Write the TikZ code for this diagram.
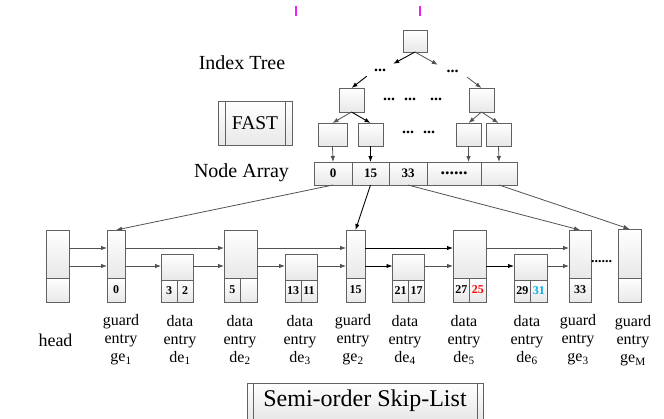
\documentclass[tikz,border=0pt]{standalone}
\usepackage{fontspec}
\setmainfont{Liberation Serif}
\usetikzlibrary{arrows.meta}
\definecolor{skyblue}{RGB}{0,176,240}
\definecolor{pinkmark}{RGB}{240,30,240}

\begin{document}
\begin{tikzpicture}[x=1pt,y=-1pt]
		\tikzstyle{box} = [draw=black!62,line width=0.9pt,top color=white,bottom color=black!9,inner sep=0.5pt,outer sep=0pt]
		\tikzstyle{frame} = [draw=black!62,line width=0.9pt]
		\tikzstyle{num} = [font=\fontsize{12}{12}\selectfont\bfseries]
		\tikzstyle{arr} = [font=\fontsize{13}{13}\selectfont\bfseries]
		\tikzstyle{link} = [draw=black!68,line width=0.8pt,-{Latex[length=6pt,width=4.5pt]}]
		\tikzstyle{hot} = [draw=black,line width=0.9pt,-{Latex[length=6pt,width=4.5pt]}]
		\tikzstyle{title} = [font=\fontsize{20}{24}\selectfont]
		\tikzstyle{lbl} = [align=center,font=\fontsize{16}{18}\selectfont]
		\tikzstyle{dots} = [font=\fontsize{16}{16}\selectfont\bfseries,inner sep=1pt]
		\useasboundingbox (0,0) rectangle (664,418);
		% marks on top
		\fill[pinkmark] (294.5,6) rectangle (296.5,16);
		\fill[pinkmark] (418.5,6) rectangle (420.5,16);
		% Titles
		\node[title] (tree) at (242,63) {Index Tree};
		\node[title] (array) at (241.5,173) {Node Array};
		\node[box,font=\fontsize{19.5}{24}\selectfont,minimum width=74pt,minimum height=44pt] (fast) at (255,123) {FAST};
		\draw[frame] ([xshift=7pt]fast.north west) -- ([xshift=7pt]fast.south west);
		\draw[frame] ([xshift=-7pt]fast.north east) -- ([xshift=-7pt]fast.south east);
		% Index tree
		\node[box,minimum width=24pt,minimum height=22pt] (root) at (415,41) {};
		\node[dots,minimum width=26pt,minimum height=12pt] (dl) at (380,70) {...};
		\node[dots,minimum width=29pt,minimum height=12pt] (dr) at (452.5,71) {...};
		\draw[hot] (root.south) -- (dl.north east);
		\draw[link] (root.south) -- (dr.north west);
		% Level 2
		\node[box,minimum width=25pt,minimum height=24pt] (l2a) at (351.5,100) {};
		\node[box,minimum width=25pt,minimum height=24pt] (l2b) at (481.5,100) {};
		\draw[hot] (dl.south west) -- (l2a.north);
		\draw[link] (dr.south east) -- (l2b.north);
		\node[dots] (m1) at (389,99) {...};
		\node[dots] (m2) at (410,99) {...};
		\node[dots] (m3) at (436,99) {...};
		% Level 3
		\node[box,minimum width=29pt,minimum height=23pt] (l3a) at (332.5,134.5) {};
		\node[box,minimum width=25pt,minimum height=23pt] (l3b) at (370.5,134.5) {};
		\node[box,minimum width=25pt,minimum height=23pt] (l3c) at (468.5,134.5) {};
		\node[box,minimum width=25pt,minimum height=23pt] (l3d) at (498.5,134.5) {};
		\draw[link] (l2a.south) -- (l3a.north);
		\draw[hot] (l2a.south) -- (l3b.north);
		\draw[link] (l2b.south) -- (l3c.north);
		\draw[link] (l2b.south) -- (l3d.north);
		\node[dots] (m4) at (408,132) {...};
		\node[dots] (m5) at (429,132) {...};
		% Node array
		\node[box,arr,minimum width=38pt,minimum height=23pt] (a0) at (333,173.5) {0};
		\node[box,arr,minimum width=37pt,minimum height=23pt] (a15) at (370.5,173.5) {15};
		\node[box,arr,minimum width=38pt,minimum height=23pt] (a33) at (408,173.5) {33};
		\node[box,arr,minimum width=54pt,minimum height=23pt] (adots) at (454,173.5) {\fontsize{18}{18}\selectfont......};
		\node[box,arr,minimum width=36pt,minimum height=23pt] (aend) at (499,173.5) {};
		\draw[link] (l3a.south) -- (a0.north);
		\draw[hot] (l3b.south) -- (a15.north);
		\draw[link] (l3c.south) -- (l3c.south |- adots.north);
		\draw[link] (l3d.south) -- (aend.north);
		% Head
		\node[box,minimum width=23pt,minimum height=48pt] (head) at (57.5,254) {};
		\node[box,minimum width=23pt,minimum height=24pt] (headb) at (57.5,290) {};
		% Guard entry 1
		\node[box,minimum width=18pt,minimum height=48pt] (ge1) at (116,254) {};
		\node[box,num,minimum width=18pt,minimum height=24pt] (ge1b) at (116,290) {0};
		% Data entry 1
		\node[box,minimum width=32pt,minimum height=26pt] (de1) at (177,267) {};
		\node[box,num,minimum width=16pt,minimum height=22pt] (de1l) at (169,291) {3};
		\node[box,num,minimum width=16pt,minimum height=22pt] (de1r) at (185,291) {2};
		% Data entry 2
		\node[box,minimum width=33pt,minimum height=48pt] (de2) at (240.5,254) {};
		\node[box,num,minimum width=16.5pt,minimum height=24pt] (de2l) at (232.25,290) {5};
		\node[box,num,minimum width=16.5pt,minimum height=24pt] (de2r) at (248.75,290) {};
		% Data entry 3
		\node[box,minimum width=32pt,minimum height=26pt] (de3) at (301,267) {};
		\node[box,num,minimum width=16pt,minimum height=22pt] (de3l) at (293,291) {13};
		\node[box,num,minimum width=16pt,minimum height=22pt] (de3r) at (309,291) {11};
		% Guard entry 2
		\node[box,minimum width=19pt,minimum height=48pt] (ge2) at (355.5,254) {};
		\node[box,num,minimum width=19pt,minimum height=24pt] (ge2b) at (355.5,290) {15};
		% Data entry 4
		\node[box,minimum width=32pt,minimum height=26pt] (de4) at (408.5,267) {};
		\node[box,num,minimum width=16pt,minimum height=22pt] (de4l) at (400.5,291) {21};
		\node[box,num,minimum width=16pt,minimum height=22pt] (de4r) at (416.5,291) {17};
		% Data entry 5
		\node[box,minimum width=33pt,minimum height=48pt] (de5) at (469.5,254) {};
		\node[box,num,minimum width=16.5pt,minimum height=24pt] (de5l) at (461.25,290) {27};
		\node[box,num,minimum width=16.5pt,minimum height=24pt,text=red] (de5r) at (477.75,290) {25};
		% Data entry 6
		\node[box,minimum width=33pt,minimum height=26pt] (de6) at (530.5,267) {};
		\node[box,num,minimum width=16.5pt,minimum height=22pt] (de6l) at (522.25,291) {29};
		\node[box,num,minimum width=16.5pt,minimum height=22pt,text=skyblue] (de6r) at (538.75,291) {31};
		% Guard entry 3 and M
		\node[box,minimum width=22pt,minimum height=48pt] (ge3) at (580,254) {};
		\node[box,num,minimum width=22pt,minimum height=24pt] (ge3b) at (580,290) {33};
		\node[box,minimum width=23pt,minimum height=49pt] (geM) at (629.5,253.5) {};
		\node[box,minimum width=23pt,minimum height=24pt] (geMb) at (629.5,290) {};
		\node[font=\fontsize{14}{14}\selectfont\bfseries,inner sep=0pt] (gap) at (601.5,262) {......};
		% Links between entries
		\coordinate (up) at (0,248);
		\coordinate (low) at (0,266);
		\draw[link] (head.east |- up) -- (ge1.west |- up);
		\draw[link] (ge1.east |- up) -- (de2.west |- up);
		\draw[link] (de2.east |- up) -- (ge2.west |- up);
		\draw[hot] (ge2.east |- up) -- (de5.west |- up);
		\draw[link] (de5.east |- up) -- (ge3.west |- up);
		\draw[link] (head.east |- low) -- (ge1.west |- low);
		\draw[link] (ge1.east |- low) -- (de1.west |- low);
		\draw[link] (de1.east |- low) -- (de2.west |- low);
		\draw[link] (de2.east |- low) -- (de3.west |- low);
		\draw[link] (de3.east |- low) -- (ge2.west |- low);
		\draw[hot] (ge2.east |- low) -- (de4.west |- low);
		\draw[link] (de4.east |- low) -- (de5.west |- low);
		\draw[hot] (de5.east |- low) -- (de6.west |- low);
		\draw[link] (de6.east |- low) -- (ge3.west |- low);
		% Array to guard entries
		\draw[link] (a0.south) -- (ge1.north);
		\draw[hot] (a15.south) -- (ge2.north);
		\draw[link] (a33.south) -- (ge3.north);
		\draw[link] (aend.south) -- (geM.north);
		% Labels
		\node[font=\fontsize{18}{18}\selectfont] (hl) at (55.5,340) {head};
		\node[lbl] (lge1) at (121,340) {guard\\entry\\ge\textsubscript{1}};
		\node[lbl] (lde1) at (180,340) {data\\entry\\de\textsubscript{1}};
		\node[lbl] (lde2) at (240,340) {data\\entry\\de\textsubscript{2}};
		\node[lbl] (lde3) at (300,340) {data\\entry\\de\textsubscript{3}};
		\node[lbl] (lge2) at (353,340) {guard\\entry\\ge\textsubscript{2}};
		\node[lbl] (lde4) at (405,340) {data\\entry\\de\textsubscript{4}};
		\node[lbl] (lde5) at (464,340) {data\\entry\\de\textsubscript{5}};
		\node[lbl] (lde6) at (527,340) {data\\entry\\de\textsubscript{6}};
		\node[lbl] (lge3) at (578,340) {guard\\entry\\ge\textsubscript{3}};
		\node[lbl] (lgeM) at (633,341) {guard\\entry\\ge\textsubscript{M}};
		% Skip list caption
		\node[box,font=\fontsize{24}{28}\selectfont,minimum width=236pt,minimum height=36pt] (skl) at (365,401) {Semi-order Skip-List};
		\draw[frame] ([xshift=6pt]skl.north west) -- ([xshift=6pt]skl.south west);
		\draw[frame] ([xshift=-6pt]skl.north east) -- ([xshift=-6pt]skl.south east);
\end{tikzpicture}
\end{document}
